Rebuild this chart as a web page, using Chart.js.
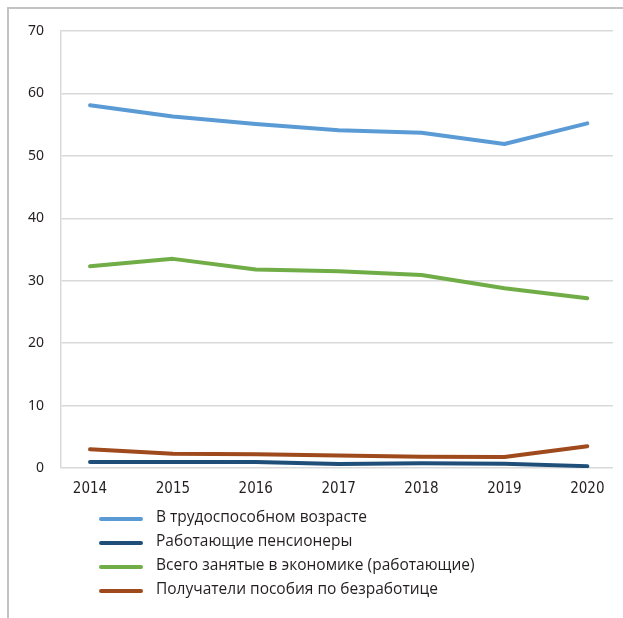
<!DOCTYPE html>
<html>
<head>
<meta charset="utf-8">
<script src="https://cdn.jsdelivr.net/npm/chart.js@4/dist/chart.umd.min.js"></script>
<style>
  html, body { margin: 0; padding: 0; background: #fff; }
  #wrap { position: relative; width: 623px; height: 618px; }
  #frame { position: absolute; left: 7px; top: 7px; right: 0; bottom: 0; border-left: 2px solid #c3c3c3; border-top: 2px solid #c3c3c3; }
  canvas { position: absolute; left: 0; top: 0; }
</style>
</head>
<body>
<div id="wrap">
  <div id="frame"></div>
  <canvas id="chart" width="623" height="618"></canvas>
</div>
<script>
const years = [2014, 2015, 2016, 2017, 2018, 2019, 2020];
const workingAge = [58.1, 56.3, 55.1, 54.1, 53.7, 51.9, 55.2];
const workingPensioners = [0.95, 0.95, 0.95, 0.65, 0.75, 0.7, 0.3];
const employedTotal = [32.3, 33.5, 31.8, 31.5, 30.9, 28.8, 27.2];
const unemploymentBenefit = [3.0, 2.3, 2.2, 2.0, 1.8, 1.75, 3.5];
const seriesNames = [
  'В трудоспособном возрасте',
  'Работающие пенсионеры',
  'Всего занятые в экономике (работающие)',
  'Получатели пособия по безработице'
];
const yTicks = [0, 10, 20, 30, 40, 50, 60, 70];

const toPoints = arr => arr.map((v, i) => ({ x: years[i], y: v }));

// legend drawn as a single column under the plot
const columnLegend = {
  id: 'columnLegend',
  afterDraw(chart) {
    const ctx = chart.ctx;
    ctx.save();
    chart.data.datasets.forEach((ds, i) => {
      const y = 518 + i * 24;
      ctx.strokeStyle = ds.borderColor;
      ctx.lineWidth = 4;
      ctx.lineCap = 'round';
      ctx.beginPath();
      ctx.moveTo(101, y + 1);
      ctx.lineTo(141, y + 1);
      ctx.stroke();
      ctx.fillStyle = '#231f20';
      ctx.font = '15.5px "Open Sans", "Noto Sans", sans-serif';
      ctx.textBaseline = 'middle';
      ctx.fillText(ds.label, 156, y);
    });
    ctx.restore();
  }
};

const colors = ['#5b9bd5', '#1f4e79', '#70ad47', '#9e4a1c'];
const values = [workingAge, workingPensioners, employedTotal, unemploymentBenefit];

new Chart(document.getElementById('chart'), {
  type: 'line',
  data: {
    datasets: values.map((arr, i) => ({
      label: seriesNames[i],
      data: toPoints(arr),
      borderColor: colors[i],
      borderWidth: 4,
      pointRadius: 0,
      tension: 0,
      borderCapStyle: 'round',
      borderJoinStyle: 'round'
    }))
  },
  options: {
    responsive: false,
    animation: false,
    layout: { padding: { left: 0, top: 31, right: 10, bottom: 120 } },
    plugins: { legend: { display: false }, tooltip: { enabled: false } },
    scales: {
      x: {
        type: 'linear',
        min: 2013.65,
        max: 2020.31,
        afterFit: s => { s.height = 30; },
        ticks: {
          stepSize: 1,
          includeBounds: false,
          padding: 4,
          color: '#231f20',
          font: { family: '"Liberation Sans Narrow", "DejaVu Sans Condensed", sans-serif', size: 15 },
          callback: v => String(v)
        },
        grid: { display: false },
        border: { display: false }
      },
      y: {
        min: 0,
        max: 70,
        afterFit: s => { s.width = 61; },
        afterBuildTicks: s => { s.ticks = yTicks.map(v => ({ value: v })); },
        ticks: {
          padding: 17,
          color: '#231f20',
          font: { family: '"Noto Sans", sans-serif', size: 14 }
        },
        grid: { color: '#d9d9d9', lineWidth: 1.5, drawTicks: false },
        border: { display: true, color: '#d9d9d9', width: 1.5 }
      }
    }
  },
  plugins: [columnLegend]
});
</script>
</body>
</html>
